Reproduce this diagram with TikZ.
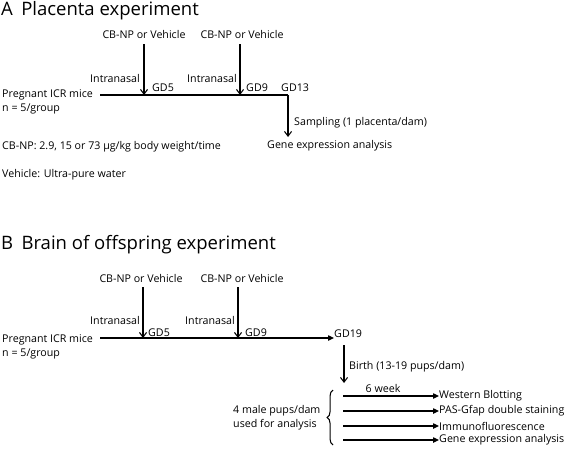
\documentclass[tikz,border=0pt]{standalone}
\usepackage{fontspec}
\setmainfont{Open Sans}
\usetikzlibrary{arrows.meta, positioning, decorations.pathreplacing}

\begin{document}
\begin{tikzpicture}[x=0.03cm, y=-0.03cm,
  lbl/.style={inner sep=0pt, font=\fontsize{9.1}{12}\selectfont},
  ttl/.style={inner sep=0pt, anchor=west, font=\fontsize{15.8}{18}\selectfont},
  dose/.style={-{Straight Barb[length=4pt,width=6pt]}, line width=0.9pt},
  flow/.style={-{Triangle[length=5pt,width=4.5pt]}, line width=0.9pt}]
  \useasboundingbox (0,0) rectangle (567,448);

  % A: placenta
  \node[ttl] (titleA) at (1,11) {A\hspace{0.45em}Placenta experiment};

  \node[lbl] (vehA1) at (144,35) {CB-NP or Vehicle};
  \node[lbl] (vehA2) at (242,35) {CB-NP or Vehicle};
  \node[lbl, align=left, anchor=west] (miceA) at (2,102) {Pregnant ICR mice\\n = 5/group};

  \coordinate (startA) at (100,95);
  \coordinate (gd5A) at (144,95);
  \coordinate (gd9A) at (240,95);
  \coordinate (cornerA) at (288,95);
  \coordinate (endA) at (288,137);

  \draw[dose] ([yshift=-4pt]vehA1.south -| gd5A) -- (gd5A);
  \draw[dose] ([yshift=-4pt]vehA2.south -| gd9A) -- (gd9A);
  \draw[line width=0.9pt] (startA) -- (cornerA);
  \draw[dose] (cornerA) -- (endA);

  \node[lbl, anchor=east] (nasA1) at (140,78) {Intranasal};
  \node[lbl, anchor=east] (nasA2) at (237,78) {Intranasal};
  \node[lbl, anchor=west] (lblA5) at (152,88) {GD5};
  \node[lbl, anchor=west] (lblA9) at (246,88) {GD9};
  \node[lbl, anchor=west] (lblA13) at (281,88) {GD13};
  \node[lbl, anchor=west] (sampA) at (294,123) {Sampling (1 placenta/dam)};
  \node[lbl, anchor=west] (geneA) at (267,146) {Gene expression analysis};

  \node[lbl, anchor=west] (doseA) at (2,147) {CB-NP: 2.9, 15 or 73 µg/kg body weight/time};
  \node[lbl, anchor=west] (waterA) at (2,175) {Vehicle: Ultra-pure water};

  % B: offspring brain
  \node[ttl] (titleB) at (1,245) {B\hspace{0.45em}Brain of offspring experiment};

  \node[lbl] (vehB1) at (141,278) {CB-NP or Vehicle};
  \node[lbl] (vehB2) at (242,278) {CB-NP or Vehicle};
  \node[lbl, align=left, anchor=west] (miceB) at (2,347) {Pregnant ICR mice\\n = 5/group};

  \coordinate (startB) at (100,338);
  \coordinate (gd5B) at (143,338);
  \coordinate (gd9B) at (238,338);
  \node[lbl, anchor=west] (gd19B) at (334,334) {GD19};

  \draw[dose] ([yshift=-4pt]vehB1.south -| gd5B) -- (gd5B);
  \draw[dose] ([yshift=-4pt]vehB2.south -| gd9B) -- (gd9B);
  \draw[flow] (startB) -- (startB -| gd19B.west);

  \node[lbl, anchor=east] (nasB1) at (140,320) {Intranasal};
  \node[lbl, anchor=east] (nasB2) at (235,320) {Intranasal};
  \node[lbl, anchor=west] (lblB5) at (148,333) {GD5};
  \node[lbl, anchor=west] (lblB9) at (245,333) {GD9};

  \coordinate (birthB) at (344,383);
  \draw[dose] (344,345) -- (birthB);
  \node[lbl, anchor=west] (pupsB) at (349,367) {Birth (13-19 pups/dam)};

  \node[lbl, align=left, anchor=west] (maleB) at (233,418) {4 male pups/dam\\used for analysis};
  \draw[line width=0.9pt, decorate,
        decoration={brace, amplitude=5pt, mirror}] (333,390) -- (333,445);
  \node[lbl, anchor=south] (weekB) at (383,393) {6 week};

  \foreach \y/\name/\txt in {396/wb/Western Blotting, 411/pas/PAS-Gfap double staining,
      426/ifl/Immunofluorescence, 440/gen/Gene expression analysis} {
    \node[lbl, anchor=west] (\name) at (439,\y) {\txt};
    \draw[flow] (343,\y) -- (\name.west);
  }
\end{tikzpicture}
\end{document}
